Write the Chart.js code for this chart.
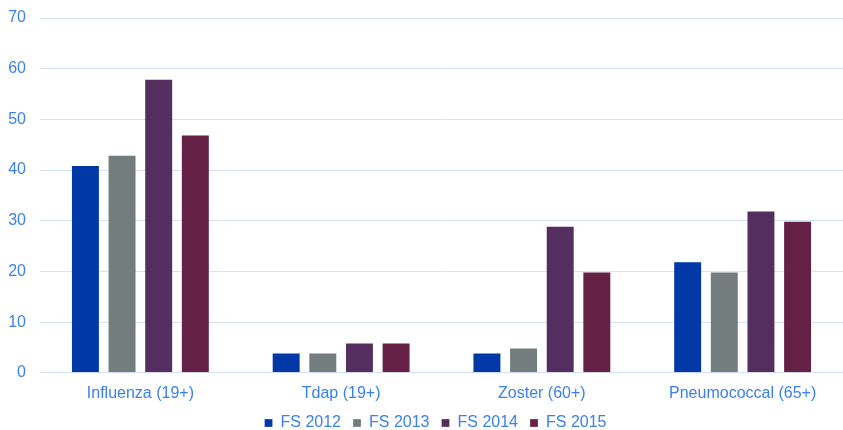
<!DOCTYPE html>
<html>
<head>
<meta charset="utf-8">
<script src="https://cdn.jsdelivr.net/npm/chart.js@4"></script>
<style>
  html, body { margin: 0; padding: 0; background: #fff; }
  #wrap { width: 843px; height: 430px; position: relative; }
</style>
</head>
<body>
<div id="wrap"><canvas id="vaxChart"></canvas></div>
<script>
// chart data
const categories = ['Influenza (19+)', 'Tdap (19+)', 'Zoster (60+)', 'Pneumococcal (65+)'];
const fs2012 = [41, 4, 4, 22];
const fs2013 = [43, 4, 5, 20];
const fs2014 = [58, 6, 29, 32];
const fs2015 = [47, 6, 20, 30];
const seriesLabels = ['FS 2012', 'FS 2013', 'FS 2014', 'FS 2015'];
const yTicks = [0, 10, 20, 30, 40, 50, 60, 70];

const COLORS = ['#0038a8', '#737d7e', '#532e5f', '#642045'];
const TEXT = '#3b80f0';
const GRID = '#d6e2f7';
const FONT = { family: 'Liberation Sans, Arial', size: 16 };

function makeSet(label, data, color) {
    return {
        label: label,
        data: data,
        backgroundColor: color,
        borderColor: 'rgba(255,255,255,0.25)',
        borderWidth: 1,
        categoryPercentage: 0.73,
        barPercentage: 0.79
    };
}

// legend: less vertical room than chart.js gives it, nudged up and left
const tightLegend = {
    id: 'tightLegend',
    beforeInit(chart) {
        const legend = chart.legend;
        if (!legend) return;
        const fit = legend.fit;
        legend.fit = function() {
            fit.call(this);
            this.height -= 16;
        };
    },
    afterLayout(chart) {
        const legend = chart.legend;
        if (!legend) return;
        legend.left -= 6;
        legend.right -= 6;
        legend.top -= 3;
        // give the clip box its room back so the labels are not cut
        legend.height += 16;
        legend.bottom = legend.top + legend.height;
    }
};

const ctx = document.getElementById('vaxChart').getContext('2d');
new Chart(ctx, {
    type: 'bar',
    data: {
        labels: categories,
        datasets: [
            makeSet(seriesLabels[0], fs2012, COLORS[0]),
            makeSet(seriesLabels[1], fs2013, COLORS[1]),
            makeSet(seriesLabels[2], fs2014, COLORS[2]),
            makeSet(seriesLabels[3], fs2015, COLORS[3])
        ]
    },
    plugins: [tightLegend],
    options: {
        responsive: true,
        maintainAspectRatio: false,
        animation: false,
        layout: { padding: { top: 0, right: -6, left: 0, bottom: 2 } },
        plugins: {
            tooltip: { enabled: false },
            legend: {
                position: 'bottom',
                fullSize: false,
                labels: {
                    color: TEXT,
                    font: FONT,
                    usePointStyle: true,
                    pointStyle: 'rect',
                    boxWidth: 8,
                    boxHeight: 8,
                    padding: 12
                }
            }
        },
        scales: {
            x: {
                grid: { display: false },
                border: { color: GRID },
                ticks: {
                    color: TEXT,
                    font: FONT,
                    padding: 3
                }
            },
            y: {
                min: 0,
                max: 70,
                afterBuildTicks: axis => { axis.ticks = yTicks.map(v => ({ value: v })); },
                afterFit: scale => {
                    scale.width = 40;
                    scale.paddingTop = 18;
                },
                grid: { color: GRID, drawTicks: false },
                border: { display: false },
                ticks: {
                    color: TEXT,
                    font: FONT,
                    padding: 14
                }
            }
        }
    }
});
</script>
</body>
</html>
